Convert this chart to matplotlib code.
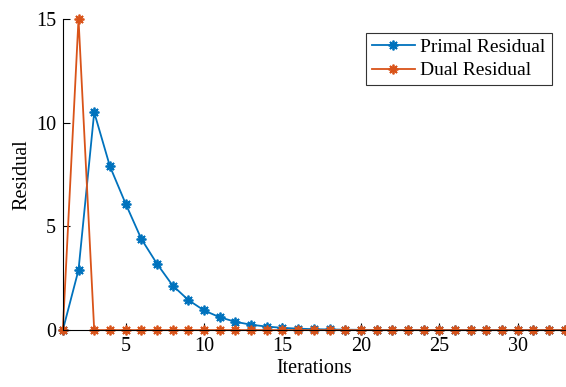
import matplotlib
matplotlib.use("Agg")
import matplotlib.pyplot as plt
import numpy as np

plt.rcParams['font.family'] = ['Liberation Serif', 'DejaVu Serif']

iterations = list(range(1, 34))
primal = [0, 2.9, 10.5, 7.9, 6.1, 4.4, 3.2, 2.15, 1.45, 0.95, 0.62, 0.4, 0.26,
          0.17, 0.11, 0.07, 0.045, 0.03, 0.02, 0.013, 0.008, 0.005, 0.003, 0.002,
          0.001, 0.001, 0, 0, 0, 0, 0, 0, 0]
dual = [0, 15] + [0] * 31

fig = plt.figure(figsize=(5.66, 3.87), dpi=100)
ax = fig.add_axes([0.111, 0.147, 0.887, 0.804])
mk = (8, 2, 0)
ax.plot(iterations, primal, '-', marker=mk, color='#0072BD', lw=1.3, ms=7, mew=1.3,
        label='Primal Residual', clip_on=False)
ax.plot(iterations, dual, '-', marker=mk, color='#D95319', lw=1.3, ms=7, mew=1.3,
        label='Dual Residual', clip_on=False)
ax.set_xlim(1, 33)
ax.set_ylim(0, 15)
ax.set_xticks([5, 10, 15, 20, 25, 30])
ax.set_yticks([0, 5, 10, 15])
ax.spines['top'].set_visible(False)
ax.spines['right'].set_visible(False)
ax.tick_params(direction='in', length=5, labelsize=14.5, width=0.8, pad=5)
ax.set_xlabel('Iterations', fontsize=14.5, labelpad=2)
ax.set_ylabel('Residual', fontsize=14.5, labelpad=3)
leg = ax.legend(loc='upper right', bbox_to_anchor=(0.985, 0.975), fontsize=14, fancybox=False,
                edgecolor='#333333', framealpha=1, borderpad=0.3, handlelength=2.2,
                handletextpad=0.3, labelspacing=0.3, borderaxespad=0.3)
leg.get_frame().set_linewidth(0.8)
fig.savefig('out.png', dpi=100)
